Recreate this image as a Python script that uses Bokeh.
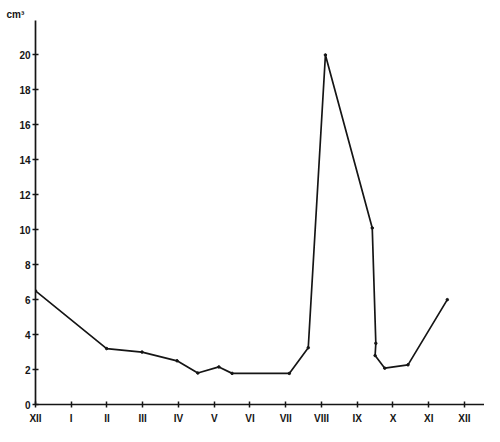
from bokeh.plotting import figure
from bokeh.models import FixedTicker, Range1d
from bokeh.embed import file_html
from bokeh.resources import INLINE

# month position (XII = 0 ... XII = 12) and volume in cm3
months = [0.0, 1.99, 2.98, 3.96, 4.54, 5.13, 5.5, 7.1, 7.63, 8.11, 9.42, 9.52, 9.50, 9.77, 10.42, 11.52]
volume = [6.5, 3.2, 3.0, 2.5, 1.8, 2.15, 1.78, 1.78, 3.25, 20.0, 10.1, 3.5, 2.8, 2.08, 2.27, 6.0]
month_labels = ["XII", "I", "II", "III", "IV", "V", "VI", "VII", "VIII", "IX", "X", "XI", "XII"]
y_ticks = [0, 2, 4, 6, 8, 10, 12, 14, 16, 18, 20]
unit_label = "cm³"

FONT = "Liberation Sans"
INK = "#151515"

p = figure(width=484, height=426, output_backend="svg", toolbar_location=None,
           x_range=Range1d(0, 12.56), y_range=Range1d(0, 21.97),
           min_border_left=35, min_border_right=0, min_border_top=20, min_border_bottom=16,
           title=unit_label)
p.outline_line_color = None
p.grid.visible = False
p.background_fill_color = "white"
p.border_fill_color = "white"

p.title.text_font = FONT
p.title.text_font_style = "bold"
p.title.text_font_size = "10px"
p.title.text_color = INK
p.title.align = "left"
p.title.offset = -29
p.title.standoff = 1

p.line(months, volume, line_color=INK, line_width=1.7)
p.scatter(months, volume, size=2.5, color=INK)

xa = p.xaxis[0]
xa.ticker = FixedTicker(ticks=list(range(len(month_labels))))
xa.major_label_overrides = {i: s for i, s in enumerate(month_labels)}
ya = p.yaxis[0]
ya.ticker = FixedTicker(ticks=y_ticks)

for ax in (xa, ya):
    ax.axis_line_color = INK
    ax.axis_line_width = 1.7
    ax.major_tick_line_color = INK
    ax.major_tick_line_width = 1.5
    ax.major_tick_in = 3
    ax.major_tick_out = 3
    ax.minor_tick_line_color = None
    ax.major_label_text_font = FONT
    ax.major_label_text_font_style = "bold"
    ax.major_label_text_color = INK
    ax.major_label_text_font_size = "10px"
xa.major_label_standoff = 5
ya.major_label_standoff = 2

open("out.html", "w").write(file_html(p, INLINE))
